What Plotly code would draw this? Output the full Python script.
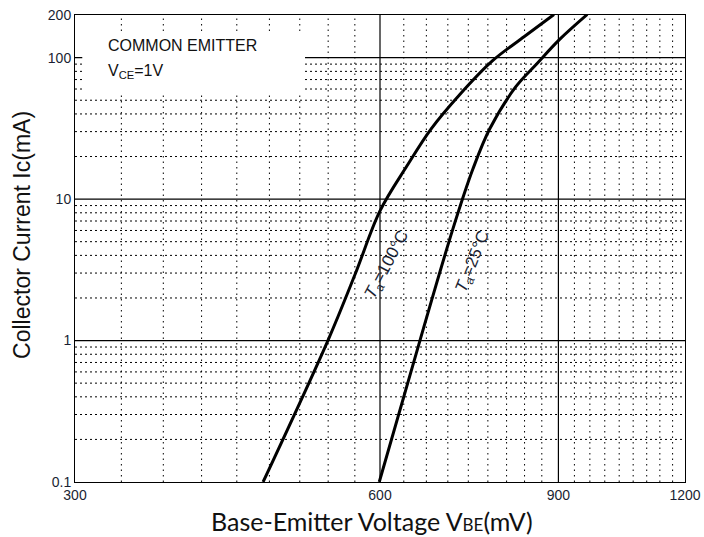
import math
import plotly.graph_objects as go

# Data
vbe_100 = [460, 533, 567, 600, 638, 674, 719, 775, 833, 891]
ic_100 = [0.1, 1.0, 2.94, 8.26, 17.2, 31.4, 54.7, 95.2, 141, 202]
vbe_25 = [599, 657, 708, 741, 770, 817, 857, 902, 961]
ic_25 = [0.1, 1.0, 6.13, 16.3, 31.4, 62.3, 90.6, 134, 202]

x_ticks = [300, 600, 900, 1200]
y_ticks = [0.1, 1, 10, 100, 200]
x_major = [600, 900]
y_major = [1, 10, 100]
x_minor = [300 + 100 * k / 3 for k in range(1, 27) if k not in (9, 18)]
y_minor = [m * d for d in (0.1, 1, 10) for m in range(2, 10)]

fig = go.Figure()
for xs, ys in ((vbe_100, ic_100), (vbe_25, ic_25)):
    fig.add_trace(go.Scatter(x=xs, y=ys, mode="lines",
                             line=dict(color="black", width=3, shape="spline", smoothing=1.0),
                             showlegend=False, hoverinfo="skip"))

shapes = []
for v in x_minor:
    shapes.append(dict(type="line", xref="x", yref="paper", x0=v, x1=v, y0=0, y1=1,
                       line=dict(color="black", width=1, dash="1.5px,4px"), layer="below"))
for v in y_minor:
    shapes.append(dict(type="line", xref="paper", yref="y", x0=0, x1=1, y0=v, y1=v,
                       line=dict(color="black", width=1, dash="2px,3px"), layer="below"))
for v in x_major:
    shapes.append(dict(type="line", xref="x", yref="paper", x0=v, x1=v, y0=0, y1=1,
                       line=dict(color="black", width=1.2), layer="below"))
for v in y_major:
    shapes.append(dict(type="line", xref="paper", yref="y", x0=0, x1=1, y0=v, y1=v,
                       line=dict(color="black", width=1.2), layer="below"))
# white box behind the condition text
shapes.append(dict(type="rect", xref="x", yref="y", x0=305, x1=506, y0=57, y1=148,
                   fillcolor="white", line=dict(width=0), layer="below"))

arial = "Liberation Sans, Arial, sans-serif"
lab_font = dict(family=arial, size=17, color="#1a1f33")
annotations = [
    dict(x=math.log10(322), y=math.log10(122), xref="x", yref="y", xanchor="left", yanchor="middle",
         text="COMMON EMITTER", showarrow=False, font=dict(family=arial, size=16, color="#111")),
    dict(x=math.log10(322), y=math.log10(80), xref="x", yref="y", xanchor="left", yanchor="middle",
         text="V<sub>CE</sub>=1V", showarrow=False, font=dict(family=arial, size=16, color="#111")),
    dict(x=math.log10(611), y=math.log10(3.4), xref="x", yref="y", text="<i>T</i><sub>a</sub>=100°C",
         showarrow=False, textangle=-62, font=lab_font),
    dict(x=math.log10(742), y=math.log10(3.6), xref="x", yref="y", text="<i>T</i><sub>a</sub>=25°C",
         showarrow=False, textangle=-68, font=lab_font),
    # axis titles
    dict(x=-0.087, y=0.529, xref="paper", yref="paper", xanchor="center", yanchor="middle",
         text="Collector Current Ic(mA)", textangle=-90, showarrow=False,
         font=dict(family=arial, size=23, color="#111")),
    dict(x=0.487, y=-0.083, xref="paper", yref="paper", xanchor="center", yanchor="middle",
         text="Base-Emitter Voltage V<span style='font-size:17px'>BE</span>(mV)", showarrow=False,
         font=dict(family="Lato, Open Sans, sans-serif", size=25, color="#111")),
]

fig.update_layout(
    width=704, height=537,
    margin=dict(l=75, r=19, t=15, b=55),
    paper_bgcolor="white", plot_bgcolor="white",
    shapes=shapes, annotations=annotations,
    xaxis=dict(type="log", range=[math.log10(300), math.log10(1200)], automargin=False,
               tickvals=x_ticks, ticktext=[str(v) for v in x_ticks],
               showgrid=False, zeroline=False, showline=True, mirror=True,
               linecolor="black", linewidth=1, ticks="",
               tickfont=dict(family=arial, size=14, color="#1a1f33")),
    yaxis=dict(type="log", range=[math.log10(0.1), math.log10(200) + 0.0005], automargin=False,
               tickvals=y_ticks, ticktext=["0.1", "1", "10", "100", "200"],
               showgrid=False, zeroline=False, showline=True, mirror=True,
               linecolor="black", linewidth=1, ticks="",
               tickfont=dict(family=arial, size=14, color="#1a1f33")),
)

fig.write_html("out.html", config={"displayModeBar": False},
               post_script="document.body.style.margin='0';document.body.style.overflow='hidden';")
